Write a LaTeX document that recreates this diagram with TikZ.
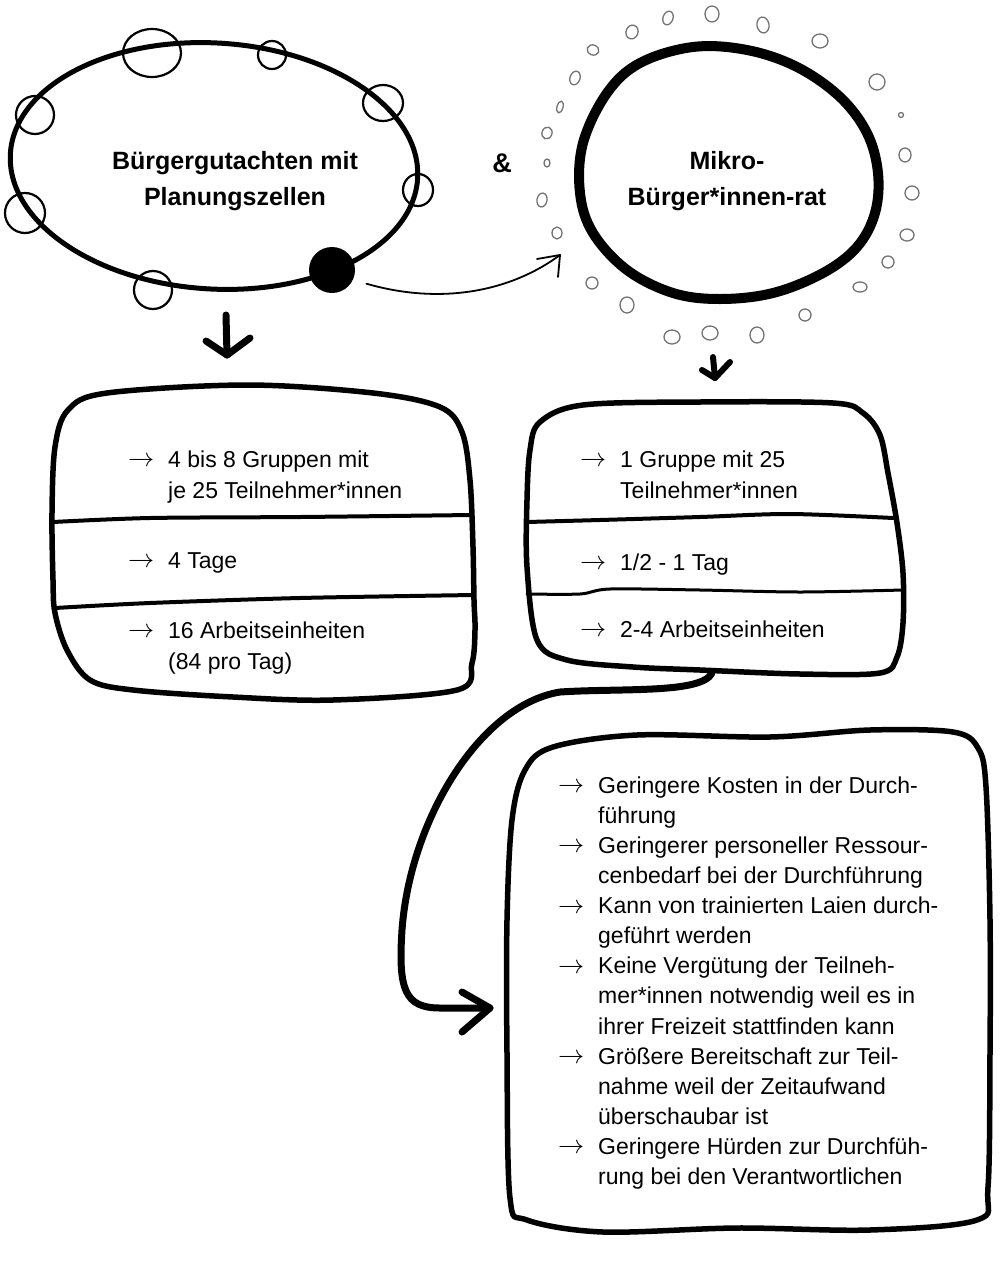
\documentclass[tikz,border=0pt]{standalone}
\usepackage{fontspec}
\setmainfont{Liberation Sans}
\usetikzlibrary{calc}
\newcommand\lst[1]{\begin{tabular}{@{}p{40pt}@{}l@{}}#1\end{tabular}}
\newcommand\ra{\raisebox{0.5pt}{\scalebox{1.05}{$\rightarrow$}}}
\begin{document}
\begin{tikzpicture}[x=1pt,y=-1pt,
  ring/.style={line width=5pt, line join=round, line cap=round},
  blob/.style={line width=10pt, line join=round},
  boxline/.style={line width=5.5pt, line join=round, line cap=round},
  divider/.style={line width=4pt, line cap=round},
  bump/.style={line width=2.2pt},
  pebble/.style={line width=1.3pt, draw=black!55},
  thinarr/.style={line width=1.8pt, line cap=round, line join=round},
  bigarr/.style={line width=7pt, line cap=round, line join=round},
  downarr/.style={line width=7pt, line cap=round, line join=round},
  title/.style={font=\fontsize{25}{36}\selectfont\bfseries, align=center, inner sep=0},
  list/.style={anchor=north west, inner sep=0, font=\fontsize{23}{31.5}\selectfont},
  blist/.style={anchor=north west, inner sep=0, font=\fontsize{23}{30.1}\selectfont}]
\useasboundingbox[fill=white] (0,0) rectangle (1003,1274);

% left ellipse with bumps
\draw[ring, rotate around={-3.5:(214,166)}] (214,166) ellipse [x radius=204, y radius=123];
\foreach \x/\y/\a/\b in {152/53/29/24, 272/55/14/14, 383/103/20/18, 418/190/15/16, 35/115/19/19, 25/213/20/20, 153/290/19/19}
  \draw[bump] (\x,\y) ellipse [x radius=\a, y radius=\b];
\node[circle, fill=black, minimum size=46pt, inner sep=0] (dot) at (332,270) {};

\node[title] (t1) at (235,181) {Bürgergutachten mit\\Planungszellen};
\node[title, font=\fontsize{27}{36}\selectfont\bfseries] (amp) at (502,163) {\&};

% right blob
\draw[blob] plot[smooth cycle, tension=0.6] coordinates {(693,47) (747,50) (797,67) (840,97) (867,133) (878,173) (875,213) (857,247) (823,273) (773,293) (720,299) (673,293) (627,270) (593,233) (580,193) (583,143) (607,93) (640,63)};
\foreach \x/\y/\a/\b/\r in {632/32/6/7/-20, 668/18/5/7/-20, 712/14/7/8/0, 763/25/6/8/10, 820/41/8/7/0, 877/82/8/8/0, 901/115/2.5/2.5/0, 905/155/6/7/0, 912/193/7/7/0, 907/235/7/6/0, 888/262/6/6/0, 860/287/7/5/0, 805/315/6/6/0, 757/335/7/8/0, 710/333/8/7/0, 672/337/8/7/0, 627/305/7/8/0, 592/283/6/6/0, 557/233/5/6/0, 542/200/5/7/-10, 547/163/3/4/0, 547/133/5/6/-20, 560/107/3/6/-15, 575/78/5/7/-20, 593/50/6/5/-20}
  \draw[pebble, rotate around={\r:(\x,\y)}] (\x,\y) ellipse [x radius=\a, y radius=\b];
\node[title] (t2) at (727,181) {Mikro-\\Bürger*innen-rat};

% thin arrow from dot to blob
\coordinate (tipR) at (560,255);
\draw[thinarr, shorten <=14pt] (dot.-25) .. controls (440,305) and (510,292) .. (tipR);
\draw[thinarr] ($(tipR)+(-23,4)$) -- (tipR) -- ($(tipR)+(-2,22)$);

% down arrows
\coordinate (dl1) at (226,315); \coordinate (dl2) at (227,355);
\draw[downarr] (dl1) -- (dl2);
\draw[downarr] ($(dl2)+(-21,-14)$) -- (dl2) -- ($(dl2)+(23,-17)$);
\coordinate (dr1) at (713,357); \coordinate (dr2) at (715,378);
\draw[line width=6pt, line cap=round, line join=round] (dr1) -- (dr2);
\draw[line width=6pt, line cap=round, line join=round] ($(dr2)+(-13,-8)$) -- (dr2) -- ($(dr2)+(15,-16)$);

% left box
\draw[boxline] plot[smooth cycle, tension=0.55] coordinates {(107,393) (247,385) (373,393) (440,407) (462,432) (470,480) (473,547) (474,600) (475,630) (472,663) (457,690) (333,700) (233,697) (133,690) (90,680) (67,650) (55,613) (53,580) (52,513) (55,447) (68,410)};
\draw[divider] plot[smooth] coordinates {(53,522) (150,518) (300,517) (472,515)};
\draw[divider] plot[smooth] coordinates {(55,608) (150,603) (300,598) (474,595)};
\node[list] (l1) at (128,445) {\lst{\ra & 4 bis 8 Gruppen mit\\ & je 25 Teilnehmer*innen}};
\node[list] (l2) at (128,546) {\lst{\ra & 4 Tage}};
\node[list] (l3) at (128,616) {\lst{\ra & 16 Arbeitseinheiten\\ & (84 pro Tag)}};

% middle right box
\draw[boxline] plot[smooth cycle, tension=0.55] coordinates {(583,405) (700,402) (833,403) (863,413) (880,435) (888,473) (897,523) (903,573) (903,623) (897,657) (880,673) (800,674) (700,670) (633,667) (567,660) (537,640) (527,567) (527,500) (530,450) (540,422)};
\draw[divider] plot[smooth] coordinates {(527,522) (600,520) (700,517) (790,514) (893,518)};
\draw[line width=3pt, line cap=round] plot[smooth] coordinates {(527,594) (580,594) (610,589) (700,590) (800,592) (903,590)};
\node[list] (m1) at (580,445) {\lst{\ra & 1 Gruppe mit 25\\ & Teilnehmer*innen}};
\node[list] (m2) at (580,548) {\lst{\ra & 1/2 - 1 Tag}};
\node[list] (m3) at (580,615) {\lst{\ra & 2-4 Arbeitseinheiten}};

% bottom box
\draw[boxline] plot[smooth cycle, tension=0.55] coordinates {(553,747) (637,735) (770,737) (870,730) (953,732) (978,748) (986,787) (990,920) (990,1053) (988,1187) (977,1220) (870,1230) (737,1228) (603,1232) (527,1220) (510,1198) (507,1053) (507,920) (512,820) (525,770)};
\node[blist] (b1) at (558,772) {\lst{\ra & Geringere Kosten in der Durch-\\
 & führung\\
\ra & Geringerer personeller Ressour-\\
 & cenbedarf bei der Durchführung\\
\ra & Kann von trainierten Laien durch-\\
 & geführt werden\\
\ra & Keine Vergütung der Teilneh-\\
 & mer*innen notwendig weil es in\\
 & ihrer Freizeit stattfinden kann\\
\ra & Größere Bereitschaft zur Teil-\\
 & nahme weil der Zeitaufwand\\
 & überschaubar ist\\
\ra & Geringere Hürden zur Durchfüh-\\
 & rung bei den Verantwortlichen}};

% connector middle box -> bottom box
\coordinate (midbot) at (712,673);
\coordinate (botin) at (490,1008);
\draw[bigarr] (midbot) .. controls (702,694) and (620,688) .. (560,692) .. controls (480,705) and (410,820) .. (402,930) .. controls (398,990) and (405,1008) .. (440,1008) -- (botin);
\draw[bigarr] ($(botin)+(-28,-16)$) -- (botin) -- ($(botin)+(-28,24)$);
\end{tikzpicture}
\end{document}
